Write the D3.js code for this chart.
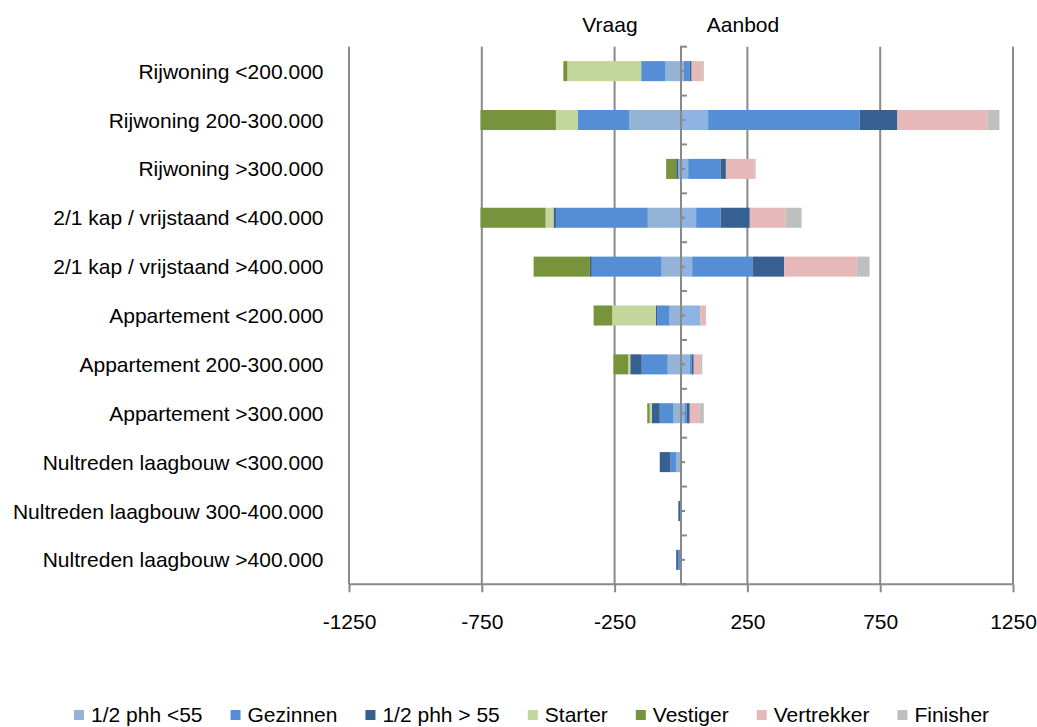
<!DOCTYPE html>
<html>
<head>
<meta charset="utf-8">
<script src="https://cdn.jsdelivr.net/npm/d3@7"></script>
<style>
  html, body { margin: 0; padding: 0; background: #fff; }
  svg { display: block; font-family: "Liberation Sans", Arial, sans-serif; }
</style>
</head>
<body>
<svg id="chart" width="1037" height="727"></svg>
<script>
const categories = [
  "Rijwoning <200.000",
  "Rijwoning 200-300.000",
  "Rijwoning >300.000",
  "2/1 kap / vrijstaand <400.000",
  "2/1 kap / vrijstaand >400.000",
  "Appartement <200.000",
  "Appartement 200-300.000",
  "Appartement >300.000",
  "Nultreden laagbouw <300.000",
  "Nultreden laagbouw 300-400.000",
  "Nultreden laagbouw >400.000"
];

// Vraag (demand) — drawn to the left of zero
const vraagPhhOnder55 = [58, 194, 10, 125, 73, 43, 50, 28, 19, 2, 0];
const vraagGezinnen   = [92, 195, 0, 346, 263, 47, 98, 52, 22, 0, 10];
const vraagPhhBoven55 = [0, 0, 8, 9, 7, 5, 43, 30, 39, 8, 8];
const vraagStarter    = [278, 82, 0, 30, 0, 164, 8, 8, 0, 0, 0];
const vraagVestiger   = [15, 284, 38, 245, 212, 70, 55, 9, 0, 0, 0];

// Aanbod (supply) — drawn to the right of zero
const aanbodPhhOnder55 = [11, 102, 27, 57, 42, 72, 33, 13, 4, 3, 3];
const aanbodGezinnen   = [22, 571, 122, 92, 227, 0, 7, 8, 0, 0, 0];
const aanbodPhhBoven55 = [7, 142, 20, 110, 119, 0, 8, 12, 0, 0, 0];
const aanbodVertrekker = [41, 339, 109, 135, 274, 22, 25, 38, 0, 0, 0];
const aanbodFinisher   = [5, 45, 3, 60, 48, 0, 7, 15, 0, 0, 0];

const xTicks = [-1250, -750, -250, 250, 750, 1250];
const xTickLabels = ["-1250", "-750", "-250", "250", "750", "1250"];
const legendLabels = ["1/2 phh <55", "Gezinnen", "1/2 phh > 55", "Starter", "Vestiger", "Vertrekker", "Finisher"];
const legendColors = ["#95B3D7", "#558ED5", "#376092", "#C3D69B", "#77933C", "#E6B9B8", "#BFBFBF"];

const vraagSeries = [
  {values: vraagPhhOnder55, color: "#95B3D7"},
  {values: vraagGezinnen,   color: "#558ED5"},
  {values: vraagPhhBoven55, color: "#376092"},
  {values: vraagStarter,    color: "#C3D69B"},
  {values: vraagVestiger,   color: "#77933C"}
];
const aanbodSeries = [
  {values: aanbodPhhOnder55, color: "#8EB4E3"},
  {values: aanbodGezinnen,   color: "#558ED5"},
  {values: aanbodPhhBoven55, color: "#376092"},
  {values: aanbodVertrekker, color: "#E6B9B8"},
  {values: aanbodFinisher,   color: "#BFBFBF"}
];

const svg = d3.select("#chart");
const gridColor = "#898989";
const fontSize = 21;
const plotTop = 46.7, plotBottom = 584.3;

const x = d3.scaleLinear().domain([-1250, 1250]).range([349, 1013]);
const y = d3.scaleBand().domain(categories).range([plotTop, plotBottom]).paddingInner(0.59).paddingOuter(0.295);

// gridlines
svg.append("g").selectAll("line").data(xTicks).join("line")
  .attr("x1", d => x(d)).attr("x2", d => x(d))
  .attr("y1", plotTop).attr("y2", plotBottom)
  .attr("stroke", gridColor).attr("stroke-width", 2);

// build segments
function buildSegments(series, sign) {
  const segs = [];
  categories.forEach((c, i) => {
    let cum = 0;
    series.forEach(s => {
      const v = s.values[i];
      if (v > 0) {
        segs.push({cat: c, x0: sign * cum, x1: sign * (cum + v), color: s.color});
      }
      cum += v;
    });
  });
  return segs;
}
const segs = buildSegments(vraagSeries, -1).concat(buildSegments(aanbodSeries, 1));

svg.append("g").selectAll("rect").data(segs).join("rect")
  .attr("x", d => Math.min(x(d.x0), x(d.x1)))
  .attr("width", d => Math.abs(x(d.x1) - x(d.x0)))
  .attr("y", d => y(d.cat))
  .attr("height", y.bandwidth())
  .attr("fill", d => d.color);

// zero (category) axis
const zx = x(0);
svg.append("line").attr("x1", zx).attr("x2", zx).attr("y1", plotTop - 1).attr("y2", plotBottom)
  .attr("stroke", gridColor).attr("stroke-width", 2);
const step = y.step();
const boundaries = d3.range(categories.length + 1).map(i => plotTop + i * step);
svg.append("g").selectAll("line").data(boundaries).join("line")
  .attr("x1", zx).attr("x2", zx + 6)
  .attr("y1", d => d).attr("y2", d => d)
  .attr("stroke", gridColor).attr("stroke-width", 2);
svg.append("g").selectAll("line").data(categories).join("line")
  .attr("x1", zx).attr("x2", zx + 4)
  .attr("y1", d => y(d) + y.bandwidth() / 2).attr("y2", d => y(d) + y.bandwidth() / 2)
  .attr("stroke", gridColor).attr("stroke-width", 2);

// category labels
svg.append("g").selectAll("text").data(categories).join("text")
  .attr("x", 323.5)
  .attr("y", d => y(d) + y.bandwidth() / 2)
  .attr("dy", "0.36em")
  .attr("text-anchor", "end")
  .attr("font-size", fontSize)
  .attr("fill", "#000")
  .text(d => d);

// bottom value axis
const xAxis = d3.axisBottom(x).tickValues(xTicks).tickSize(8).tickPadding(0)
  .tickFormat((d, i) => xTickLabels[i]);
const ax = svg.append("g").attr("transform", `translate(0,${plotBottom})`).call(xAxis);
ax.select(".domain").attr("stroke", gridColor).attr("stroke-width", 2).attr("d", `M${x(-1250)},0H${x(1250)}`);
ax.selectAll(".tick line").attr("stroke", gridColor).attr("stroke-width", 2);
ax.selectAll(".tick text")
  .attr("font-size", fontSize).attr("font-family", "Liberation Sans, Arial, sans-serif")
  .attr("fill", "#000").attr("y", 45).attr("dy", 0);

// Vraag / Aanbod headers
svg.append("text").attr("x", 610).attr("y", 31.5).attr("text-anchor", "middle")
  .attr("font-size", fontSize).text("Vraag");
svg.append("text").attr("x", 743).attr("y", 31.5).attr("text-anchor", "middle")
  .attr("font-size", fontSize).text("Aanbod");

// legend
const lg = svg.append("g");
let lx = 74;
legendLabels.forEach((lab, i) => {
  lg.append("rect").attr("x", lx).attr("y", 710).attr("width", 10).attr("height", 10)
    .attr("fill", legendColors[i]);
  const t = lg.append("text").attr("x", lx + 17).attr("y", 721.5)
    .attr("font-size", fontSize).text(lab);
  lx += 17 + t.node().getComputedTextLength() + 28;
});
</script>
</body>
</html>
